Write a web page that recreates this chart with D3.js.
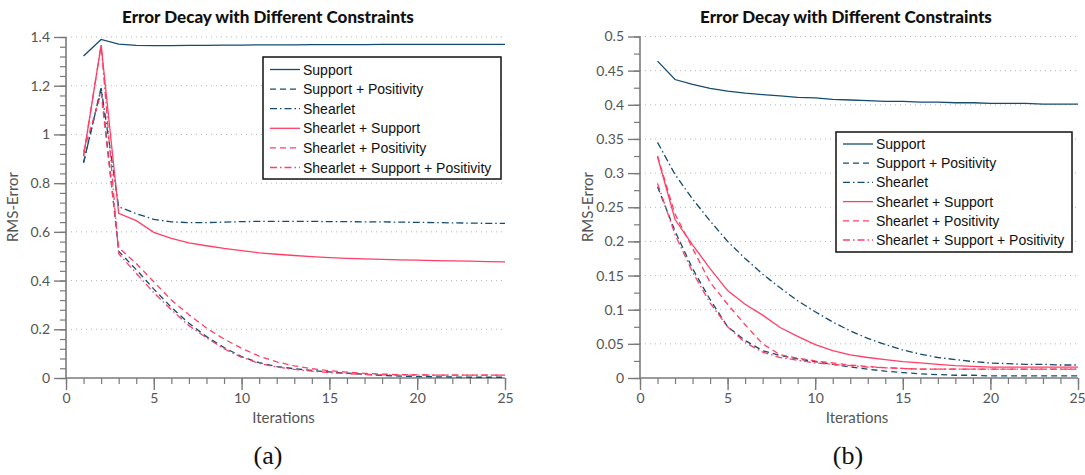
<!DOCTYPE html>
<html>
<head>
<meta charset="utf-8">
<script src="https://cdn.jsdelivr.net/npm/d3@7"></script>
<style>
  html, body { margin: 0; padding: 0; background: #fff; }
  svg { display: block; }
</style>
</head>
<body>
<svg id="fig" width="1085" height="475"></svg>
<script>
// ---- data -------------------------------------------------------------
const iterations = [1,2,3,4,5,6,7,8,9,10,11,12,13,14,15,16,17,18,19,20,21,22,23,24,25];

const seriesNames = [
  "Support",
  "Support + Positivity",
  "Shearlet",
  "Shearlet + Support",
  "Shearlet + Positivity",
  "Shearlet + Support + Positivity"
];

// panel (a)
const aSupport        = [1.322,1.390,1.371,1.366,1.365,1.365,1.366,1.366,1.367,1.367,1.368,1.368,1.368,1.369,1.369,1.369,1.369,1.370,1.370,1.370,1.370,1.370,1.370,1.370,1.370];
const aSupportPos     = [0.884,1.190,0.520,0.445,0.365,0.290,0.225,0.170,0.125,0.088,0.063,0.047,0.038,0.031,0.025,0.020,0.015,0.011,0.008,0.006,0.005,0.004,0.003,0.003,0.003];
const aShearlet       = [0.884,1.190,0.703,0.675,0.651,0.641,0.638,0.638,0.640,0.642,0.643,0.643,0.643,0.643,0.642,0.642,0.641,0.641,0.640,0.639,0.638,0.637,0.636,0.635,0.635];
const aShearSupport   = [0.911,1.367,0.676,0.646,0.598,0.573,0.555,0.543,0.532,0.523,0.514,0.508,0.503,0.498,0.494,0.491,0.489,0.487,0.485,0.484,0.482,0.481,0.480,0.478,0.477];
const aShearPos       = [0.929,1.169,0.535,0.470,0.395,0.320,0.260,0.205,0.160,0.122,0.090,0.066,0.050,0.038,0.030,0.024,0.019,0.016,0.014,0.013,0.012,0.012,0.012,0.012,0.012];
const aShearSupPos    = [0.911,1.367,0.510,0.430,0.350,0.280,0.215,0.165,0.120,0.085,0.060,0.045,0.035,0.028,0.022,0.018,0.015,0.013,0.012,0.012,0.012,0.012,0.012,0.012,0.012];

// panel (b)
const bSupport        = [0.464,0.437,0.430,0.424,0.420,0.417,0.415,0.413,0.411,0.410,0.408,0.407,0.406,0.405,0.405,0.404,0.404,0.403,0.403,0.402,0.402,0.402,0.401,0.401,0.401];
const bSupportPos     = [0.280,0.215,0.160,0.115,0.075,0.055,0.040,0.033,0.028,0.024,0.020,0.016,0.013,0.010,0.008,0.006,0.005,0.004,0.004,0.003,0.003,0.003,0.003,0.003,0.003];
const bShearlet       = [0.345,0.298,0.262,0.230,0.200,0.175,0.152,0.132,0.113,0.097,0.082,0.069,0.058,0.049,0.041,0.035,0.030,0.027,0.024,0.022,0.021,0.020,0.020,0.019,0.019];
const bShearSupport   = [0.324,0.232,0.195,0.160,0.128,0.108,0.092,0.074,0.061,0.049,0.040,0.034,0.030,0.027,0.024,0.022,0.020,0.018,0.017,0.016,0.016,0.016,0.016,0.016,0.016];
const bShearPos       = [0.325,0.240,0.190,0.140,0.108,0.078,0.050,0.034,0.029,0.025,0.022,0.019,0.017,0.015,0.014,0.013,0.013,0.013,0.013,0.013,0.013,0.013,0.013,0.013,0.013];
const bShearSupPos    = [0.285,0.210,0.155,0.110,0.075,0.052,0.038,0.030,0.026,0.022,0.020,0.018,0.016,0.015,0.014,0.013,0.013,0.013,0.013,0.013,0.013,0.013,0.013,0.013,0.013];

// axis ticks
const aYTicks = [0, 0.2, 0.4, 0.6, 0.8, 1, 1.2, 1.4];
const aYLabels = ["0", "0.2", "0.4", "0.6", "0.8", "1", "1.2", "1.4"];
const bYTicks = [0, 0.05, 0.1, 0.15, 0.2, 0.25, 0.3, 0.35, 0.4, 0.45, 0.5];
const bYLabels = ["0", "0.05", "0.1", "0.15", "0.2", "0.25", "0.3", "0.35", "0.4", "0.45", "0.5"];
const xTicks = [0, 5, 10, 15, 20, 25];
const xLabels = ["0", "5", "10", "15", "20", "25"];

// ---- styles -----------------------------------------------------------
const BLUE = "#154c70";
const PINK = "#ff3f66";
const lineStyles = [
  { color: BLUE, dash: null },
  { color: BLUE, dash: "6,4" },
  { color: BLUE, dash: "7,3,1.5,3" },
  { color: PINK, dash: null },
  { color: PINK, dash: "6,4" },
  { color: PINK, dash: "7,3,1.5,3" }
];
const AXIS_GRAY = "#7a7a7a";
const TEXT_GRAY = "#555";
const FONT = "Lato, 'Open Sans', sans-serif";

const svg = d3.select("#fig");

function drawPanel(p) {
  const x = d3.scaleLinear().domain([0, 25]).range([p.x0, p.x1]);
  const y = d3.scaleLinear().domain([0, p.yMax]).range([p.y0, p.y1]);
  const g = svg.append("g");

  // dotted horizontal grid at major ticks
  g.append("g").selectAll("line")
    .data(p.yTicks.filter(v => v > 0))
    .join("line")
    .attr("x1", p.x0).attr("x2", p.x1)
    .attr("y1", d => y(d)).attr("y2", d => y(d))
    .attr("stroke", "#b5b5b5").attr("stroke-width", 1)
    .attr("stroke-dasharray", "1,4");

  // minor ticks
  const minorY = d3.axisLeft(y).tickValues(d3.range(0, p.yMax + 1e-9, p.yMinor)).tickSize(6).tickFormat("");
  const minorX = d3.axisBottom(x).tickValues(d3.range(0, 25.001, 1)).tickSize(6).tickFormat("");
  const gMy = g.append("g").attr("transform", `translate(${p.x0},0)`).call(minorY);
  const gMx = g.append("g").attr("transform", `translate(0,${p.y0})`).call(minorX);
  [gMy, gMx].forEach(s => {
    s.select(".domain").remove();
    s.selectAll("line").attr("stroke", AXIS_GRAY).attr("stroke-width", 1.2);
  });

  // major axes
  const yAxis = d3.axisLeft(y).tickValues(p.yTicks).tickSize(12).tickPadding(4)
    .tickFormat((d, i) => p.yLabels[i]);
  const xAxis = d3.axisBottom(x).tickValues(xTicks).tickSize(12).tickPadding(3)
    .tickFormat((d, i) => xLabels[i]);
  const gy = g.append("g").attr("transform", `translate(${p.x0},0)`).call(yAxis);
  const gx = g.append("g").attr("transform", `translate(0,${p.y0})`).call(xAxis);
  [gy, gx].forEach(s => {
    s.select(".domain").attr("stroke", AXIS_GRAY).attr("stroke-width", 1.6);
    s.selectAll(".tick line").attr("stroke", AXIS_GRAY).attr("stroke-width", 1.4);
    s.selectAll(".tick text").attr("fill", TEXT_GRAY)
      .style("font-family", FONT).style("font-size", "14px");
  });
  gy.select(".domain").attr("d", `M0,${p.y0}V${p.y1}`);
  gx.select(".domain").attr("d", `M${p.x0},0H${p.x1}`);
  // keep the last x label inside the page edge
  if (p.lastLabelShift) {
    gx.selectAll(".tick text").filter(d => d === 25).attr("dx", p.lastLabelShift);
  }

  // data lines
  const line = d3.line().x((d, i) => x(iterations[i])).y(d => y(d));
  p.series.forEach((vals, k) => {
    g.append("path")
      .datum(vals)
      .attr("d", line)
      .attr("fill", "none")
      .attr("stroke", lineStyles[k].color)
      .attr("stroke-width", 1.3)
      .attr("stroke-dasharray", lineStyles[k].dash);
  });

  // title
  g.append("text")
    .attr("x", p.titleX).attr("y", 23)
    .attr("text-anchor", "middle")
    .style("font-family", FONT).style("font-size", "17px").style("font-weight", "900")
    .attr("fill", "#111")
    .text("Error Decay with Different Constraints");

  // axis labels
  g.append("text")
    .attr("x", (p.x0 + p.x1) / 2 - 2).attr("y", 423)
    .attr("text-anchor", "middle")
    .style("font-family", FONT).style("font-size", "15px")
    .attr("fill", TEXT_GRAY)
    .text("Iterations");
  g.append("text")
    .attr("transform", `translate(${p.yLabelX},207) rotate(-90)`)
    .attr("text-anchor", "middle")
    .style("font-family", FONT).style("font-size", "15px")
    .attr("fill", TEXT_GRAY)
    .text("RMS-Error");

  // legend
  const L = p.legend;
  const lg = g.append("g");
  lg.append("rect")
    .attr("x", L.x).attr("y", L.y).attr("width", L.w).attr("height", L.h)
    .attr("fill", "#fff").attr("stroke", "#111").attr("stroke-width", 1.5);
  seriesNames.forEach((name, k) => {
    const cy = L.y + L.first + k * L.step;
    lg.append("line")
      .attr("x1", L.x + 7).attr("x2", L.x + 37)
      .attr("y1", cy).attr("y2", cy)
      .attr("stroke", lineStyles[k].color).attr("stroke-width", 1.3)
      .attr("stroke-dasharray", lineStyles[k].dash);
    lg.append("text")
      .attr("x", L.x + 40).attr("y", cy + 5)
      .style("font-family", "'Liberation Sans', Arial, sans-serif").style("font-size", "14px")
      .attr("fill", "#111")
      .text(name);
  });

  // caption
  g.append("text")
    .attr("x", p.captionX).attr("y", 464)
    .attr("text-anchor", "middle")
    .style("font-family", "'Liberation Serif', 'DejaVu Serif', serif").style("font-size", "26px")
    .attr("fill", "#111")
    .text(p.caption);
}

drawPanel({
  x0: 66, x1: 505, y0: 378, y1: 37, yMax: 1.4, yMinor: 0.04,
  yTicks: aYTicks, yLabels: aYLabels,
  series: [aSupport, aSupportPos, aShearlet, aShearSupport, aShearPos, aShearSupPos],
  titleX: 268, yLabelX: 18, captionX: 268, caption: "(a)",
  legend: { x: 263, y: 57, w: 238, h: 122, first: 12.5, step: 19.6 }
});

drawPanel({
  x0: 640, x1: 1078, y0: 378, y1: 36.5, yMax: 0.5, yMinor: 0.025,
  yTicks: bYTicks, yLabels: bYLabels,
  series: [bSupport, bSupportPos, bShearlet, bShearSupport, bShearPos, bShearSupPos],
  titleX: 846, yLabelX: 593, captionX: 848, caption: "(b)",
  legend: { x: 836, y: 132, w: 236, h: 120, first: 12, step: 19.2 },
  lastLabelShift: -1
});
</script>
</body>
</html>
